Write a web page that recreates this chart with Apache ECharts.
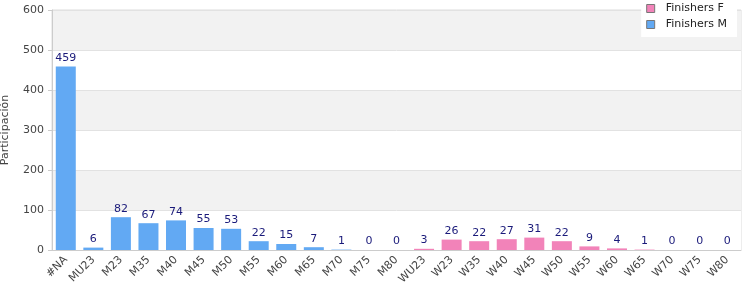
<!DOCTYPE html>
<html>
<head>
<meta charset="utf-8">
<script src="https://cdn.jsdelivr.net/npm/echarts@6/dist/echarts.min.js"></script>
<style>
  html, body {margin: 0; padding: 0; background: #fff;}
  #chart {width: 750px; height: 300px;}
</style>
</head>
<body>
<div id="chart"></div>
<script>
  var categories = ['#NA', 'MU23', 'M23', 'M35', 'M40', 'M45', 'M50', 'M55', 'M60', 'M65', 'M70', 'M75', 'M80',
    'WU23', 'W23', 'W35', 'W40', 'W45', 'W50', 'W55', 'W60', 'W65', 'W70', 'W75', 'W80'];
  // '-' where a series has no bar in that category
  var finishersM = [459, 6, 82, 67, 74, 55, 53, 22, 15, 7, 1, 0, 0,
    '-', '-', '-', '-', '-', '-', '-', '-', '-', '-', '-', '-'];
  var finishersF = ['-', '-', '-', '-', '-', '-', '-', '-', '-', '-', '-', '-', '-',
    3, 26, 22, 27, 31, 22, 9, 4, 1, 0, 0, 0];
  var yTicks = {min: 0, max: 600, interval: 100};

  var myChart = echarts.init(document.getElementById('chart'));
  var labelStyle = {show: true, position: 'top', color: '#1a1a7a', fontSize: 11, distance: 3, fontFamily: 'DejaVu Sans'};
  var option = {
    animation: false,
    textStyle: {fontFamily: 'DejaVu Sans'},
    grid: {left: 52, right: 9, top: 10, bottom: 50, show: true, borderColor: '#dcdcdc', borderWidth: 1,
      containLabel: false, outerBoundsMode: 'none'},
    legend: {
      data: ['Finishers F', 'Finishers M'],
      orient: 'vertical', right: 13, top: 0,
      backgroundColor: '#fff', padding: [3, 10, 7, 5], itemGap: 5,
      itemWidth: 8, itemHeight: 8, icon: 'rect',
      itemStyle: {borderColor: '#777', borderWidth: 1},
      textStyle: {fontSize: 11, color: '#222', padding: [0, 0, 0, 6]}
    },
    xAxis: {
      type: 'category', data: categories,
      axisLine: {lineStyle: {color: '#cccccc'}},
      axisTick: {show: false},
      axisLabel: {rotate: 45, color: '#444', fontSize: 11, interval: 0, margin: 8}
    },
    yAxis: {
      type: 'value', min: yTicks.min, max: yTicks.max, interval: yTicks.interval,
      name: 'Participación', nameLocation: 'middle', nameGap: 41,
      nameTextStyle: {color: '#444', fontSize: 11},
      axisLine: {show: true, lineStyle: {color: '#cccccc'}},
      axisTick: {show: true, length: 4, lineStyle: {color: '#cccccc'}},
      axisLabel: {color: '#444', fontSize: 11},
      splitLine: {show: true, lineStyle: {color: '#e2e2e2'}},
      splitArea: {show: true, areaStyle: {color: ['#ffffff', '#f2f2f2']}}
    },
    series: [
      {
        name: 'Finishers F', type: 'bar', data: finishersF, barWidth: 20, barGap: '-100%',
        itemStyle: {color: '#f283b9'}, label: labelStyle
      },
      {
        name: 'Finishers M', type: 'bar', data: finishersM, barWidth: 20,
        itemStyle: {color: '#62a9f3'}, label: labelStyle
      }
    ]
  };
  myChart.setOption(option);
</script>
</body>
</html>
